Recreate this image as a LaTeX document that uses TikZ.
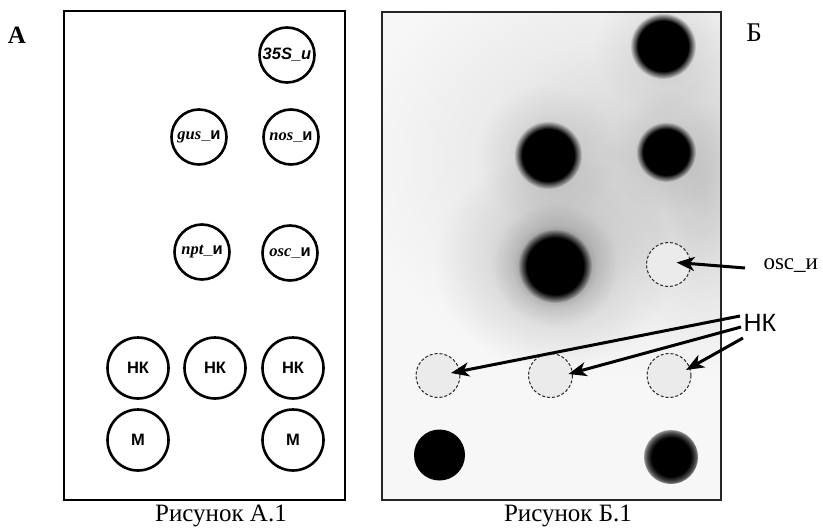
\documentclass[tikz,border=0pt]{standalone}
\usepackage{fontspec}
\setmainfont{Liberation Serif}
\setsansfont{Liberation Sans}
\usetikzlibrary{arrows.meta,fadings,calc}

% soft halo: opaque centre falling off smoothly to the rim (white = opaque)
\pgfdeclareradialshading{softglowshade}{\pgfpointorigin}{%
  color(0bp)=(white); color(6bp)=(black!30);
  color(14bp)=(black!70); color(25bp)=(black);
  color(50bp)=(black)}
\pgfdeclarefading{softglow}{\pgfuseshading{softglowshade}}
% tighter halo around a strong signal
\pgfdeclareradialshading{tightglowshade}{\pgfpointorigin}{%
  color(0bp)=(white); color(10bp)=(white!60!black);
  color(17bp)=(black!85); color(25bp)=(black);
  color(50bp)=(black)}
\pgfdeclarefading{tightglow}{\pgfuseshading{tightglowshade}}
% dark spot with a blurred edge
\pgfdeclareradialshading{spotedgeshade}{\pgfpointorigin}{%
  color(0bp)=(white); color(19bp)=(white);
  color(25bp)=(black); color(50bp)=(black)}
\pgfdeclarefading{spotedge}{\pgfuseshading{spotedgeshade}}
% spot with a grey rim
\pgfdeclareradialshading{ringspot}{\pgfpointorigin}{%
  color(0bp)=(black); color(18bp)=(black); color(22bp)=(black!75);
  color(24.5bp)=(black!50); color(25bp)=(black!40); color(50bp)=(black!40)}

\begin{document}
\begin{tikzpicture}[x=1pt,y=-1pt,
  probe/.style={circle,draw=black,line width=2.6pt,inner sep=0pt,minimum size=55pt,
    font=\fontsize{16.5}{16.5}\selectfont},
  ctrl/.style={probe,minimum size=61pt,font=\sffamily\bfseries\fontsize{16.5}{16.5}\selectfont},
  blank/.style={circle,draw=black!85,dash pattern=on 3pt off 2pt,line width=1pt,
    fill=black!8,minimum size=44pt,inner sep=0pt},
  pointer/.style={-{Stealth[length=18pt,width=14pt,inset=5pt]},line width=3pt},
  caption/.style={font=\fontsize{25}{25}\selectfont},
  sidelabel/.style={font=\fontsize{23}{23}\selectfont,anchor=west},
]
\useasboundingbox (0,0) rectangle (823,530);

% ---------- panel A: layout of the membrane ----------
\node[font=\bfseries\fontsize{25}{25}\selectfont] (labA) at (17,35) {А};
\draw[line width=2.4pt] (64,11) rectangle (345,500);

\node[probe] (p35s) at (287,55) {\sffamily\bfseries\itshape 35S\_и};
\node[probe] (pgus) at (199,137) {{\bfseries\itshape gus}{\sffamily\bfseries\_и}};
\node[probe] (pnos) at (291,137) {{\bfseries\itshape nos}{\sffamily\bfseries\_и}};
\node[probe] (pnpt) at (202,252) {{\bfseries\itshape npt}{\sffamily\bfseries\_и}};
\node[probe] (posc) at (290,253) {{\bfseries\itshape osc}{\sffamily\bfseries\_и}};

\node[ctrl] (nkA1) at (138,368) {НК};
\node[ctrl] (nkA2) at (215,368) {НК};
\node[ctrl] (nkA3) at (293,368) {НК};
\node[ctrl] (mA1) at (138,440) {М};
\node[ctrl] (mA2) at (293,440) {М};

\node[caption] (capA) at (221,516) {Рисунок А.1};

% ---------- panel B: hybridisation result ----------
\begin{scope}
  \clip (382,12) rectangle (721,500);
  \fill[black!3] (382,12) rectangle (721,500);
  % diffuse background
  \fill[black,fill opacity=0.15,path fading=softglow] (625,160) ellipse [x radius=270pt, y radius=220pt];
  \fill[black,fill opacity=0.10,path fading=softglow] (705,190) ellipse [x radius=80pt, y radius=190pt];
  \fill[black,fill opacity=0.25,path fading=softglow] (555,262) ellipse [x radius=120pt, y radius=110pt];
  \fill[black,fill opacity=0.45,path fading=tightglow] (555,266) circle [radius=62pt];
  \fill[black,fill opacity=0.16,path fading=softglow] (548,155) circle [radius=70pt];
  \fill[black,fill opacity=0.12,path fading=softglow] (664,48) circle [radius=70pt];
  \fill[black,fill opacity=0.10,path fading=softglow] (666,152) circle [radius=60pt];
  % signals
  \fill[black,path fading=spotedge] (663,46) circle [radius=33pt];
  \fill[black,path fading=spotedge] (548,155) circle [radius=34pt];
  \fill[black,path fading=spotedge] (666,152) circle [radius=30pt];
  \fill[black,path fading=spotedge] (555,266) circle [radius=37pt];
  \fill[black] (439.5,455) circle [radius=25.5pt];
  \shade[shading=ringspot] (671,457) circle [radius=27pt];
\end{scope}
\draw[line width=1.8pt,black!85] (382,12) rectangle (721,500);

\node[blank] (bosc) at (668.5,264.5) {};
\node[blank] (bnk1) at (438,375.5) {};
\node[blank] (bnk2) at (550.5,375.5) {};
\node[blank] (bnk3) at (669,375.5) {};

\node[font=\fontsize{27}{27}\selectfont] (labB) at (754,33) {Б};
\node[sidelabel] (losc) at (760,266) {osc\_и};
\node[sidelabel,font=\sffamily\fontsize{25}{25}\selectfont] (lnk) at (740,323) {НК};

\coordinate (soscs) at (745,268);
\coordinate (snk1) at (740,316);
\coordinate (snk2) at (741,327);
\coordinate (snk3) at (743,338);
\coordinate (tosc) at ($(bosc.center)+(8,-2)$);
\coordinate (tnk1) at ($(bnk1.center)+(13,-2.5)$);
\coordinate (tnk2) at ($(bnk2.center)+(18,-1.5)$);
\coordinate (tnk3) at ($(bnk3.center)+(17,-5.5)$);

\draw[pointer] (soscs) -- (tosc);
\draw[pointer] (snk1) -- (tnk1);
\draw[pointer] (snk2) -- (tnk2);
\draw[pointer] (snk3) -- (tnk3);

\node[caption] (capB) at (568,516) {Рисунок Б.1};
\end{tikzpicture}
\end{document}
